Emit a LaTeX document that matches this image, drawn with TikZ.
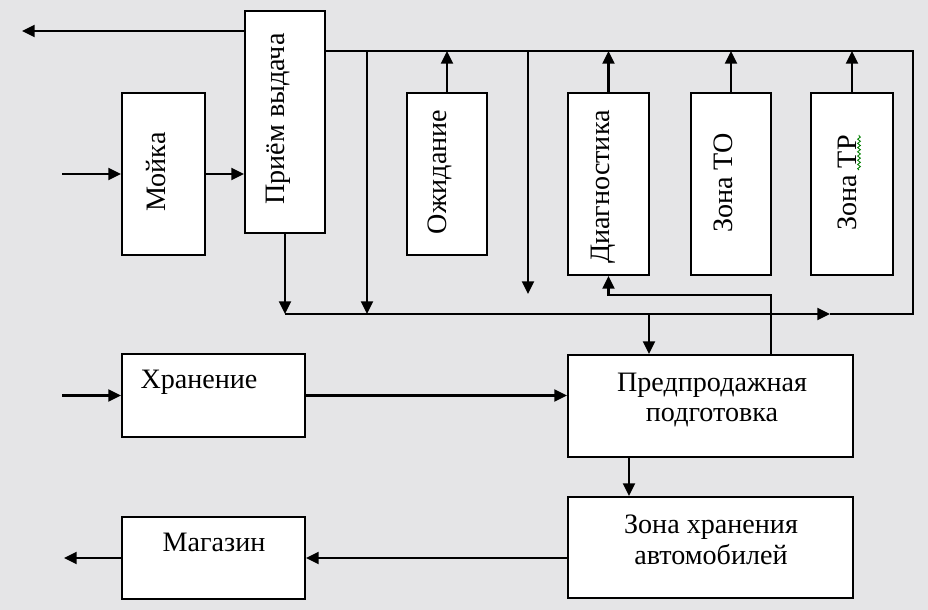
\documentclass[tikz,border=0pt]{standalone}
\usepackage{fontspec}
\setmainfont{Liberation Serif}
\usetikzlibrary{arrows.meta, positioning, decorations.pathmorphing}
\definecolor{fondo}{RGB}{229,229,231}
\tikzset{
    box/.style={draw=black, fill=white, line width=1.5pt, inner sep=0pt},
    htxt/.style={font=\fontsize{20}{22}\selectfont, align=center, inner sep=0pt},
    vtxt/.style={font=\fontsize{20}{22}\selectfont, rotate=90, inner sep=0pt},
    arrow/.style={-{Triangle[length=9pt,width=8.5pt]}, line width=1.5pt},
    line/.style={line width=1.5pt}
}

\begin{document}
\begin{tikzpicture}[x=0.025cm, y=-0.025cm]

        % Sfondo
        \fill[fondo] (0,0) rectangle (928,610);

        % -----------------------------------------------------------------
        % БЛОКИ
        % -----------------------------------------------------------------
        \node (moika) [box, minimum width=2.075cm, minimum height=4.05cm] at (163.5,174) {};
        \node (priem) [box, minimum width=2cm, minimum height=5.55cm] at (285,122) {};
        \node (ozhid) [box, minimum width=2cm, minimum height=4.05cm] at (447,174) {};
        \node (diag) [box, minimum width=2.025cm, minimum height=4.55cm] at (608.5,184) {};
        \node (zto) [box, minimum width=2cm, minimum height=4.55cm] at (731,184) {};
        \node (ztr) [box, minimum width=2.05cm, minimum height=4.55cm] at (852,184) {};
        \node (hran) [box, minimum width=4.575cm, minimum height=2.075cm] at (213.5,395.5) {};
        \node (magaz) [box, minimum width=4.575cm, minimum height=2.05cm] at (213.5,558) {};
        \node (predp) [box, minimum width=7.125cm, minimum height=2.55cm] at (710.5,406) {};
        \node (zhran) [box, minimum width=7.125cm, minimum height=2.525cm] at (710.5,547.5) {};

        % Надписи
        \node (moika-t) [vtxt] at (156,172) {Мойка};
        \node (priem-t) [vtxt] at (278,119) {Приём выдача};
        \node (ozhid-t) [vtxt] at (440,172) {Ожидание};
        \node (diag-t) [vtxt] at (603,187) {Диагностика};
        \node (zto-t) [vtxt] at (723,183) {Зона ТО};
        \node (ztr-t) [vtxt] at (847,183) {Зона ТР};
        \node (hran-t) [htxt] at (199,382.5) {Хранение};
        \node (magaz-t) [htxt] at (214,542) {Магазин};
        \node (predp-t) [htxt] at (712,400) {Предпродажная\\подготовка};
        \node (zhran-t) [htxt] at (711,540) {Зона хранения\\автомобилей};

        % Подчёркивание
        \coordinate (sq) at (859,170);
        \draw[green!50!black, line width=0.6pt, decorate, decoration={snake, segment length=3pt, amplitude=1pt}] (sq) -- ++(0,-35);

        % -----------------------------------------------------------------
        % ТОЧКИ ШИН
        % -----------------------------------------------------------------
        \coordinate (out_top) at (22,31);
        \coordinate (in_moika) at (62,174);
        \coordinate (in_hran) at (62,395.5);
        \coordinate (out_magaz) at (64,558);
        \coordinate (bus_bl) at (285,314);
        \coordinate (bus_br) at (913,314);
        \coordinate (bus_tr) at (913,51);
        \coordinate (bus_arr) at (830,314);
        \coordinate (v1) at (367,51);
        \coordinate (v2) at (528,51);
        \coordinate (v2_end) at (528,294);
        \coordinate (v3) at (649,314);
        \coordinate (ret) at (771,295);
        \coordinate (v4) at (629,0);

        % Верхняя часть
        \draw[arrow] (priem.west |- out_top) -- (out_top);
        \draw[arrow] (in_moika) -- (moika.west);
        \draw[arrow] (moika.east) -- (moika.east -| priem.west);
        \draw[arrow] (priem.south) -- (bus_bl);
        \draw[arrow] (bus_bl) -- (bus_arr);
        \draw[line] (bus_arr) -- (bus_br) -- (bus_tr) -- (priem.east |- bus_tr);
        \draw[arrow] (v1) -- (v1 |- bus_bl);
        \draw[arrow] (v2) -- (v2_end);
        \draw[arrow] (ozhid.north) -- (ozhid.north |- bus_tr);
        \draw[arrow] (diag.north) -- (diag.north |- bus_tr);
        \draw[arrow] (zto.north) -- (zto.north |- bus_tr);
        \draw[arrow] (ztr.north) -- (ztr.north |- bus_tr);

        % Нижняя часть
        \draw[arrow] (v3) -- (v3 |- predp.north);
        \draw[arrow] (ret |- predp.north) -- (ret) -- (diag.south |- ret) -- (diag.south);
        \draw[arrow] (in_hran) -- (hran.west);
        \draw[arrow] (hran.east) -- (hran.east -| predp.west);
        \draw[arrow] (v4 |- predp.south) -- (v4 |- zhran.north);
        \draw[arrow] (zhran.west |- magaz.east) -- (magaz.east);
        \draw[arrow] (magaz.west) -- (out_magaz);

\end{tikzpicture}
\end{document}
